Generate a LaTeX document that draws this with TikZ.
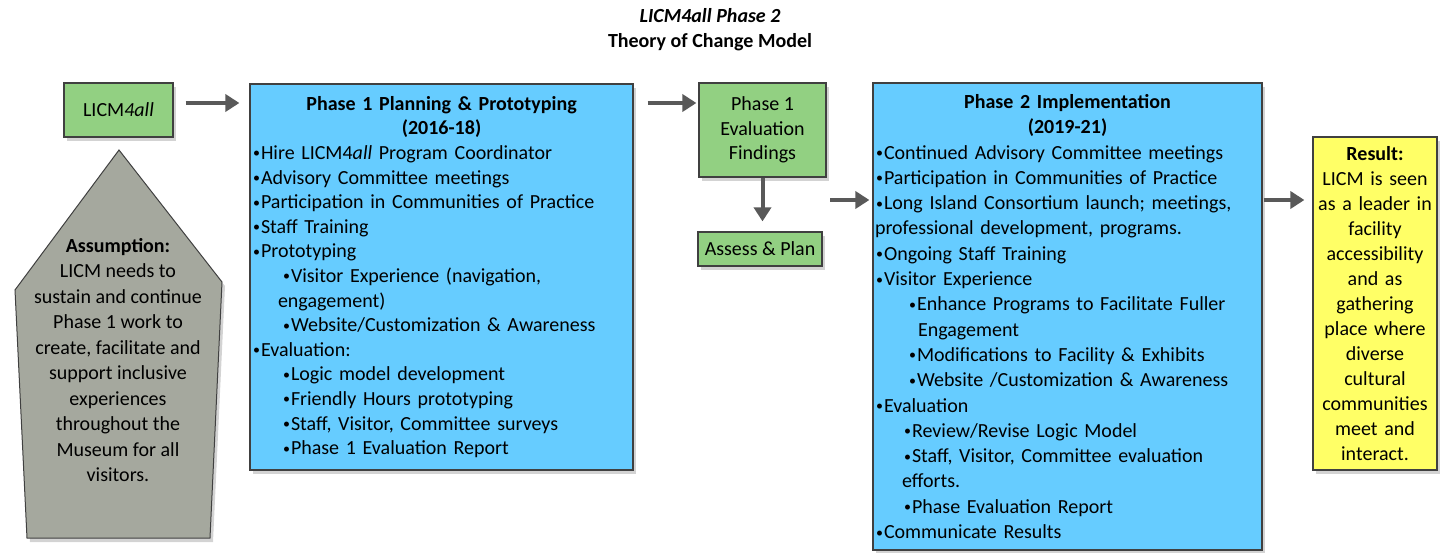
\documentclass[tikz,border=0pt]{standalone}
\usepackage{fontspec}
\setmainfont{Carlito}
\usetikzlibrary{arrows.meta,shadows}

\definecolor{boxgreen}{RGB}{146,208,130}
\definecolor{boxblue}{RGB}{102,204,255}
\definecolor{boxyellow}{RGB}{255,255,102}
\definecolor{stonegray}{RGB}{165,168,158}
\definecolor{arrowgray}{RGB}{89,89,89}
\definecolor{edgegray}{RGB}{64,64,64}

\newcommand{\bul}{\makebox[9pt][c]{\raisebox{1.5pt}{\fontsize{14}{14}\selectfont•}}}

\tikzstyle{every node}=[font=\fontsize{20}{24.6}\selectfont, inner sep=0pt]
\tikzstyle{shade}=[drop shadow={shadow xshift=3pt, shadow yshift=-4pt, opacity=0.35}]
\tikzstyle{greenbox}=[draw=edgegray, line width=1.2pt, fill=boxgreen, align=center, shade]
\tikzstyle{bluebox}=[draw=edgegray, line width=1.2pt, fill=boxblue, align=left, inner xsep=2pt, shade]
\tikzstyle{notebox}=[draw=edgegray, line width=1.2pt, fill=boxyellow, align=center, shade]
\tikzstyle{flow}=[draw=arrowgray, line width=4pt, -{Triangle[length=14pt,width=17pt]}]

\begin{document}
\begin{tikzpicture}[x=1pt,y=-1pt]
  \useasboundingbox (0,0) rectangle (1448,553);

  \node[align=center, font=\fontsize{20}{25}\selectfont] (title) at (710,30)
    {\textbf{\textit{LICM4all Phase 2}}\\ \textbf{Theory of Change Model}};

  \node[greenbox, minimum width=109pt, minimum height=54pt] (licm) at (118.5,110) {LICM\textit{4all}};

  \filldraw[fill=stonegray, draw=edgegray, line width=1pt, shade]
    (119,150) -- (222,282) -- (210,538) -- (27,538) -- (15,290) -- cycle;
  \node[align=center, font=\fontsize{20}{25.5}\selectfont] (assume) at (118,360)
    {\textbf{Assumption:}\\ LICM needs to\\ sustain and continue\\ Phase 1 work to\\
     create, facilitate and\\ support inclusive\\ experiences\\ throughout the\\
     Museum for all\\ visitors.};

  \node[bluebox, text width=379pt, minimum height=386pt] (phase1) at (441.5,277) {%
    \makebox[\hsize][c]{\textbf{Phase 1 Planning \& Prototyping}}\\
    \makebox[\hsize][c]{\textbf{(2016-18)}}\\
    \bul Hire LICM4\textit{all} Program Coordinator\\
    \bul Advisory Committee meetings\\
    \bul Participation in Communities of Practice\\
    \bul Staff Training\\
    \bul Prototyping\\
    \hspace*{30pt}\bul Visitor Experience (navigation,\\
    \hspace*{26pt}engagement)\\
    \hspace*{30pt}\bul Website/Customization \& Awareness\\
    \bul Evaluation:\\
    \hspace*{30pt}\bul Logic model development\\
    \hspace*{30pt}\bul Friendly Hours prototyping\\
    \hspace*{30pt}\bul Staff, Visitor, Committee surveys\\
    \hspace*{30pt}\bul Phase 1 Evaluation Report};

  \node[greenbox, minimum width=127pt, minimum height=94pt] (findings) at (762.5,130)
    {Phase 1\\ Evaluation\\ Findings};
  \node[greenbox, minimum width=124pt, minimum height=34pt] (assess) at (760,249) {Assess \& Plan};

  \node[bluebox, text width=385pt, minimum height=467pt, font=\fontsize{20}{25.3}\selectfont]
    (phase2) at (1067.5,316.5) {%
    \makebox[\hsize][c]{\textbf{Phase 2 Implementation}}\\
    \makebox[\hsize][c]{\textbf{(2019-21)}}\\
    \bul Continued Advisory Committee meetings\\
    \bul Participation in Communities of Practice\\
    \bul Long Island Consortium launch; meetings,\\
    professional development, programs.\\
    \bul Ongoing Staff Training\\
    \bul Visitor Experience\\
    \hspace*{33pt}\bul Enhance Programs to Facilitate Fuller\\
    \hspace*{43pt}Engagement\\
    \hspace*{33pt}\bul Modifications to Facility \& Exhibits\\
    \hspace*{33pt}\bul Website /Customization \& Awareness\\
    \bul Evaluation\\
    \hspace*{28pt}\bul Review/Revise Logic Model\\
    \hspace*{28pt}\bul Staff, Visitor, Committee evaluation\\
    \hspace*{27pt}efforts.\\
    \hspace*{28pt}\bul Phase Evaluation Report\\
    \bul Communicate Results};

  \node[notebox, minimum width=124pt, minimum height=333pt, text width=120pt,
        font=\fontsize{20}{25}\selectfont] (result) at (1375,303.5)
    {\textbf{Result:}\\ LICM is seen\\ as a leader in\\ facility\\ accessibility\\ and as\\
     gathering\\ place where\\ diverse\\ cultural\\ communities\\ meet and\\ interact.};

  \coordinate (top) at ([yshift=7pt]licm.east);
  \coordinate (mid) at (830,200);
  \draw[flow, shorten <=12pt, shorten >=10pt] (top) -- (top -| phase1.west);
  \draw[flow, shorten <=14pt, shorten >=2pt] (top -| phase1.east) -- (top -| findings.west);
  \draw[flow, shorten >=10pt] (findings) -- (findings |- assess.north);
  \draw[flow, shorten >=3pt] (mid) -- (mid -| phase2.west);
  \draw[flow, shorten <=1pt, shorten >=8pt] (mid -| phase2.east) -- (mid -| result.west);
\end{tikzpicture}
\end{document}
